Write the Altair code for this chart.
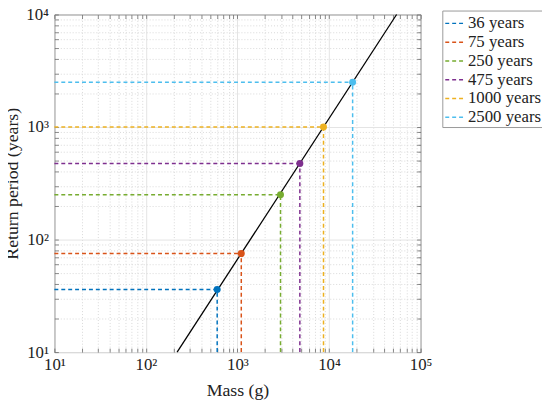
import altair as alt
import pandas as pd

# ---- data ----
labels = ["36 years", "75 years", "250 years", "475 years", "1000 years", "2500 years"]
periods = [36, 75, 250, 475, 1000, 2500]
masses = [600, 1100, 2950, 4800, 8700, 18100]
colors = ["#0072BD", "#D95319", "#77AC30", "#7E2F8E", "#EDB120", "#4DBEEE"]

fit_mass = [219, 54700]
fit_period = [10, 10000]

x_domain = [10, 100000]
y_domain = [10, 10000]
x_major = [10, 100, 1000, 10000, 100000]
y_major = [10, 100, 1000, 10000]
x_minor = [k * 10 ** n for n in range(1, 5) for k in range(2, 10)]
y_minor = [k * 10 ** n for n in range(1, 4) for k in range(2, 10)]
sup = ["⁰", "¹", "²", "³", "⁴", "⁵"]

FONT = "'Liberation Serif', 'DejaVu Serif', serif"

fit_df = pd.DataFrame({"mass": fit_mass, "period": fit_period})
pts_df = pd.DataFrame({"label": labels, "mass": masses, "period": periods})
rules_df = pd.DataFrame(
    {
        "label": labels + labels,
        "x": [x_domain[0]] * len(labels) + masses,
        "x2": masses + masses,
        "y": periods + [y_domain[0]] * len(labels),
        "y2": periods + periods,
    }
)


def major_test(vals):
    return "indexof(%s, datum.value) < 0" % str(list(vals))


def label_expr(vals):
    return "indexof(%s, datum.value) >= 0 ? '10' + %s[round(log(datum.value)/LN10)] : ''" % (
        str(list(vals)),
        str(sup),
    )


xs = alt.Scale(type="log", domain=x_domain, nice=False)
ys = alt.Scale(type="log", domain=y_domain, nice=False)
cs = alt.Scale(domain=labels, range=colors)

grid_common = dict(
    grid=True,
    domain=False,
    labelOverlap=False,
    labelFlush=False,
    tickSize={"expr": "-4"},
    tickColor="#555555",
    tickWidth=0.7,
    labelFont=FONT,
    labelFontSize=17,
    labelColor="#222222",
    titleFont=FONT,
    titleFontSize=18,
    titleFontWeight="normal",
    titleColor="#222222",
)

x_axis = alt.Axis(
    values=x_major + x_minor,
    title="Mass (g)",
    labelExpr=label_expr(x_major),
    labelPadding=9,
    titlePadding=9,
    gridDash={"condition": {"test": major_test(x_major), "value": [1, 2]}, "value": []},
    gridColor={"condition": {"test": major_test(x_major), "value": "#d8d8d8"}, "value": "#e4e4e4"},
    **grid_common,
)
y_axis = alt.Axis(
    values=y_major + y_minor,
    title="Return period (years)",
    labelExpr=label_expr(y_major),
    labelPadding=10,
    titlePadding=4,
    gridDash={"condition": {"test": major_test(y_major), "value": [1, 2]}, "value": []},
    gridColor={"condition": {"test": major_test(y_major), "value": "#d8d8d8"}, "value": "#e4e4e4"},
    **grid_common,
)

x_axis_top = alt.Axis(
    orient="top", values=x_major + x_minor, labels=False, title=None, grid=False,
    domain=False, tickSize={"expr": "-4"}, tickColor="#555555", tickWidth=0.7,
)
y_axis_right = alt.Axis(
    orient="right", values=y_major + y_minor, labels=False, title=None, grid=False,
    domain=False, tickSize={"expr": "-4"}, tickColor="#555555", tickWidth=0.7,
)

line = alt.Chart(fit_df).mark_line(color="black", strokeWidth=1.3).encode(
    x=alt.X("mass:Q", scale=xs, axis=x_axis),
    y=alt.Y("period:Q", scale=ys, axis=y_axis),
)

rules = alt.Chart(rules_df).mark_rule(strokeDash=[4, 3], strokeWidth=1.5).encode(
    x=alt.X("x:Q", scale=xs, axis=x_axis_top),
    x2="x2:Q",
    y=alt.Y("y:Q", scale=ys, axis=y_axis_right),
    y2="y2:Q",
    color=alt.Color(
        "label:N",
        scale=cs,
        legend=alt.Legend(
            title=None,
            orient="none",
            legendX=393,
            legendY=-4,
            symbolType="stroke",
            symbolDash=[4, 3],
            symbolStrokeWidth=1.5,
            symbolSize=400,
            labelFont=FONT,
            labelFontSize=17,
            labelColor="#222222",
            labelOffset=2,
            strokeColor="#999999",
            fillColor="white",
            padding=2,
            rowPadding=-1,
        ),
    ),
)

points = alt.Chart(pts_df).mark_circle(size=50, opacity=1).encode(
    x=alt.X("mass:Q", scale=xs, axis=None),
    y=alt.Y("period:Q", scale=ys, axis=None),
    color=alt.Color("label:N", scale=cs, legend=None),
)

chart = (
    alt.layer(line, rules, points)
    .resolve_axis(x="independent", y="independent")
    .properties(
        width=371,
        height=342,
        autosize=alt.AutoSizeParams(type="none"),
        padding={"left": 47, "top": 4, "right": 123, "bottom": 48},
        background="white",
    )
    .configure_view(stroke="#555555", strokeWidth=1)
)

chart.save("out.html", embed_options={"renderer": "svg", "actions": False})
